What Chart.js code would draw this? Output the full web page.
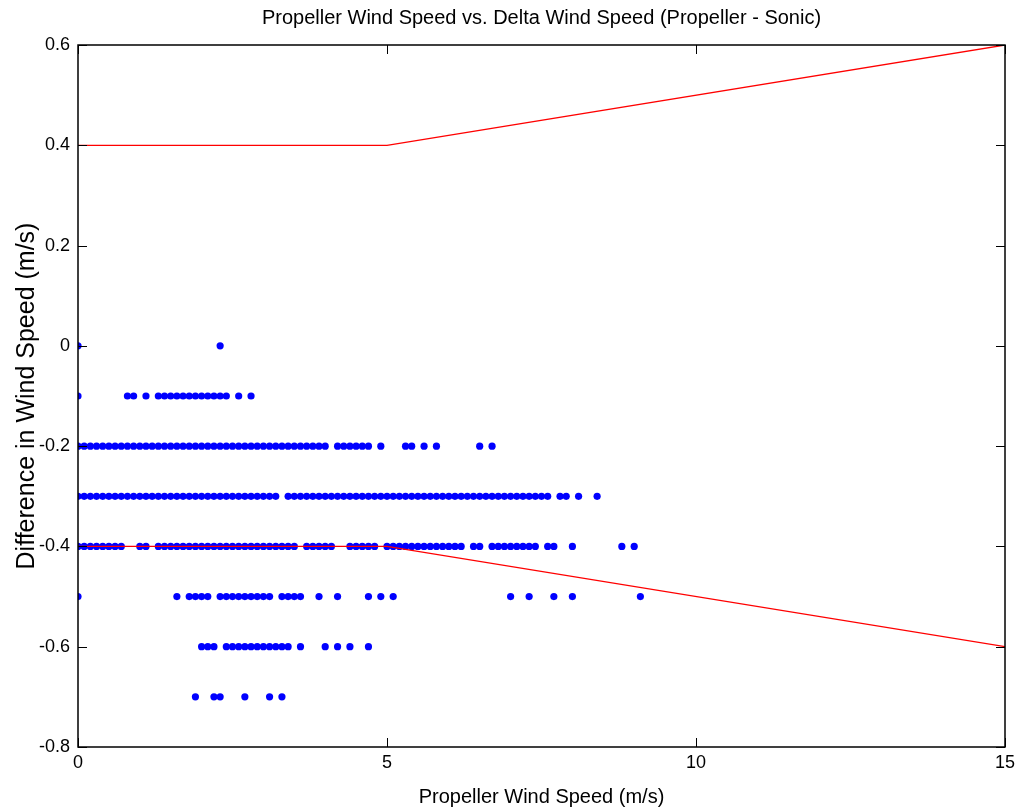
<!DOCTYPE html>
<html>
<head>
    <title>Propeller vs Sonic</title>
    <script src="https://cdn.jsdelivr.net/npm/chart.js@4/dist/chart.umd.min.js"></script>
    <style>
        body { margin: 0; background: #fff; }
        .chart-container { width: 1033px; height: 810px; }
    </style>
</head>
<body>
    <div class="chart-container">
        <canvas id="deltaChart"></canvas>
    </div>

    <script>
    // propeller speeds (m/s) of the dots on each delta row
    const rowDeltas = [0, -0.1, -0.2, -0.3, -0.4, -0.5, -0.6, -0.7];
    const speedsAt0 = [0, 2.3];
    const speedsAtM01 = [0, 0.8, 0.9, 1.1, 1.3, 1.4, 1.5, 1.6, 1.7, 1.8, 1.9, 2.0, 2.1, 2.2, 2.3, 2.4, 2.6, 2.8];
    const speedsAtM02 = [0, 0.1, 0.2, 0.3, 0.4, 0.5, 0.6, 0.7, 0.8, 0.9, 1.0, 1.1, 1.2, 1.3, 1.4, 1.5, 1.6, 1.7, 1.8, 1.9,
        2.0, 2.1, 2.2, 2.3, 2.4, 2.5, 2.6, 2.7, 2.8, 2.9, 3.0, 3.1, 3.2, 3.3, 3.4, 3.5, 3.6, 3.7, 3.8, 3.9, 4.0,
        4.2, 4.3, 4.4, 4.5, 4.6, 4.7, 4.9, 5.3, 5.4, 5.6, 5.8, 6.5, 6.7];
    const speedsAtM03 = [0, 0.1, 0.2, 0.3, 0.4, 0.5, 0.6, 0.7, 0.8, 0.9, 1.0, 1.1, 1.2, 1.3, 1.4, 1.5, 1.6, 1.7, 1.8, 1.9,
        2.0, 2.1, 2.2, 2.3, 2.4, 2.5, 2.6, 2.7, 2.8, 2.9, 3.0, 3.1, 3.2, 3.4, 3.5, 3.6, 3.7, 3.8, 3.9,
        4.0, 4.1, 4.2, 4.3, 4.4, 4.5, 4.6, 4.7, 4.8, 4.9, 5.0, 5.1, 5.2, 5.3, 5.4, 5.5, 5.6, 5.7, 5.8, 5.9,
        6.0, 6.1, 6.2, 6.3, 6.4, 6.5, 6.6, 6.7, 6.8, 6.9, 7.0, 7.1, 7.2, 7.3, 7.4, 7.5, 7.6, 7.8, 7.9, 8.1, 8.4];
    const speedsAtM04 = [0, 0.1, 0.2, 0.3, 0.4, 0.5, 0.6, 0.7, 1.0, 1.1, 1.3, 1.4, 1.5, 1.6, 1.7, 1.8, 1.9,
        2.0, 2.1, 2.2, 2.3, 2.4, 2.5, 2.6, 2.7, 2.8, 2.9, 3.0, 3.1, 3.2, 3.3, 3.4, 3.5, 3.7, 3.8, 3.9, 4.0, 4.1,
        4.4, 4.5, 4.6, 4.7, 4.8, 5.0, 5.1, 5.2, 5.3, 5.4, 5.5, 5.6, 5.7, 5.8, 5.9, 6.0, 6.1, 6.2, 6.4, 6.5,
        6.7, 6.8, 6.9, 7.0, 7.1, 7.2, 7.3, 7.4, 7.6, 7.7, 8.0, 8.8, 9.0];
    const speedsAtM05 = [0, 1.6, 1.8, 1.9, 2.0, 2.1, 2.3, 2.4, 2.5, 2.6, 2.7, 2.8, 2.9, 3.0, 3.1, 3.3, 3.4, 3.5, 3.6,
        3.9, 4.2, 4.7, 4.9, 5.1, 7.0, 7.3, 7.7, 8.0, 9.1];
    const speedsAtM06 = [2.0, 2.1, 2.2, 2.4, 2.5, 2.6, 2.7, 2.8, 2.9, 3.0, 3.1, 3.2, 3.3, 3.4, 3.6, 4.0, 4.2, 4.4, 4.7];
    const speedsAtM07 = [1.9, 2.2, 2.3, 2.7, 3.1, 3.3];
    const rowSpeeds = [speedsAt0, speedsAtM01, speedsAtM02, speedsAtM03, speedsAtM04, speedsAtM05, speedsAtM06, speedsAtM07];

    // tolerance limits (red lines)
    const limitX = [0, 5, 15];
    const upperLimit = [0.4, 0.4, 0.6];
    const lowerLimit = [-0.4, -0.4, -0.6];

    const xTicks = [0, 5, 10, 15];
    const yTicks = [0.6, 0.4, 0.2, 0, -0.2, -0.4, -0.6, -0.8];

    const sans = "'Liberation Sans', Arial, sans-serif";

    const points = [];
    rowDeltas.forEach((d, i) => {
        rowSpeeds[i].forEach(s => points.push({ x: s, y: d }));
    });

    // MATLAB style box with inward ticks
    const boxPlugin = {
        id: 'box',
        afterDraw(chart) {
            const { ctx, chartArea: a, scales } = chart;
            ctx.save();
            ctx.strokeStyle = '#000';
            ctx.lineWidth = 1.5;
            ctx.strokeRect(a.left, a.top, a.right - a.left, a.bottom - a.top);
            ctx.lineWidth = 1;
            ctx.beginPath();
            xTicks.forEach(v => {
                const px = Math.round(scales.x.getPixelForValue(v)) + 0.5;
                ctx.moveTo(px, a.bottom); ctx.lineTo(px, a.bottom - 9);
                ctx.moveTo(px, a.top); ctx.lineTo(px, a.top + 9);
            });
            yTicks.forEach(v => {
                const py = Math.round(scales.y.getPixelForValue(v)) + 0.5;
                ctx.moveTo(a.left, py); ctx.lineTo(a.left + 9, py);
                ctx.moveTo(a.right, py); ctx.lineTo(a.right - 9, py);
            });
            ctx.stroke();
            ctx.restore();
        }
    };

    new Chart(document.getElementById('deltaChart'), {
        type: 'scatter',
        data: {
            datasets: [
                {
                    label: 'Delta',
                    data: points,
                    pointRadius: 3.6,
                    pointBackgroundColor: '#0000ff',
                    pointBorderWidth: 0,
                    order: 2
                },
                {
                    label: 'Upper limit',
                    data: limitX.map((x, i) => ({ x: x, y: upperLimit[i] })),
                    showLine: true,
                    borderColor: '#ff0000',
                    borderWidth: 1.3,
                    pointRadius: 0,
                    order: 1
                },
                {
                    label: 'Lower limit',
                    data: limitX.map((x, i) => ({ x: x, y: lowerLimit[i] })),
                    showLine: true,
                    borderColor: '#ff0000',
                    borderWidth: 1.3,
                    pointRadius: 0,
                    order: 1
                }
            ]
        },
        options: {
            responsive: true,
            maintainAspectRatio: false,
            animation: false,
            layout: { padding: { left: 0, right: 28, top: 0, bottom: 0 } },
            plugins: {
                legend: { display: false },
                tooltip: { enabled: false },
                title: {
                    display: true,
                    fullSize: false,
                    text: 'Propeller Wind Speed vs. Delta Wind Speed (Propeller - Sonic)',
                    color: '#000',
                    font: { family: sans, size: 20, weight: 'normal' },
                    padding: { top: 6, bottom: 15 }
                }
            },
            scales: {
                x: {
                    type: 'linear',
                    min: 0,
                    max: 15,
                    afterBuildTicks: s => { s.ticks = xTicks.map(v => ({ value: v })); },
                    afterFit: s => { s.height = 63; },
                    grid: { display: false, drawTicks: false },
                    border: { display: false },
                    ticks: { color: '#000', padding: 5, font: { family: sans, size: 18 } },
                    title: {
                        display: true,
                        text: 'Propeller Wind Speed (m/s)',
                        color: '#000',
                        font: { family: sans, size: 20 },
                        padding: { top: 0, bottom: 1 }
                    }
                },
                y: {
                    type: 'linear',
                    min: -0.8,
                    max: 0.6,
                    afterBuildTicks: s => { s.ticks = yTicks.map(v => ({ value: v })); },
                    afterFit: s => { s.width = 78; },
                    grid: { display: false, drawTicks: false },
                    border: { display: false },
                    ticks: {
                        color: '#000',
                        padding: 8,
                        font: { family: sans, size: 18 },
                        callback: v => (Math.abs(v) < 1e-9 ? '0' : v.toFixed(1))
                    },
                    title: {
                        display: true,
                        text: 'Difference in Wind Speed (m/s)',
                        color: '#000',
                        font: { family: sans, size: 25 },
                        padding: { top: 12, bottom: 0 }
                    }
                }
            }
        },
        plugins: [boxPlugin]
    });
    </script>
</body>
</html>
